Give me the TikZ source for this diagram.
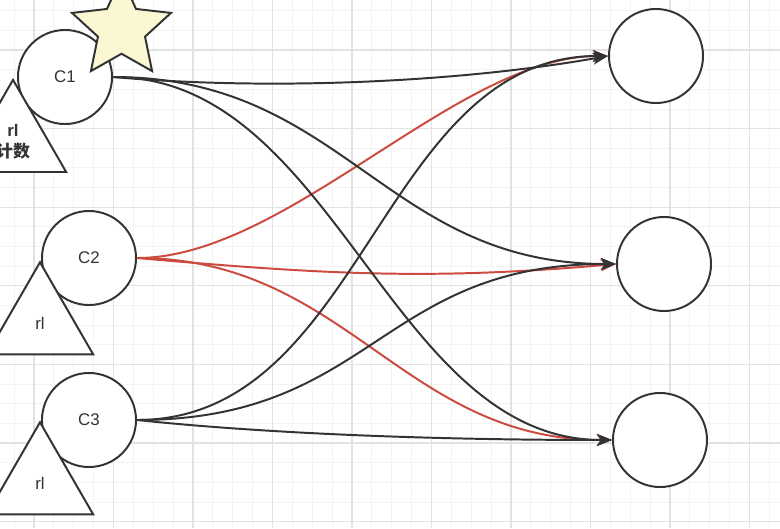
\documentclass[tikz,border=0pt]{standalone}
\usepackage{fontspec}
\setmainfont{Liberation Sans}
\newfontfamily\cjk{Noto Sans CJK SC}
\usetikzlibrary{arrows.meta,shapes.geometric}

\definecolor{linec}{HTML}{333333}
\definecolor{redline}{HTML}{CC4A3E}
\definecolor{starfill}{HTML}{FAF7D2}
\definecolor{gridmajor}{HTML}{E2E2E2}
\definecolor{gridminor}{HTML}{F3F3F3}

\tikzset{
  client/.style={circle, draw=linec, line width=1.4pt, fill=white,
    minimum size=2.35cm, inner sep=0pt, text=linec, font=\fontsize{12}{14}\selectfont},
  limiter/.style={regular polygon, regular polygon sides=3, draw=linec, line width=1.4pt,
    fill=white, minimum size=3.07cm, inner sep=0pt, align=center, text=linec,
    font=\fontsize{12}{15}\selectfont},
  starbadge/.style={star, star points=5, star point ratio=2.1, draw=linec,
    line width=1.4pt, fill=starfill, minimum size=2.6cm, inner sep=0pt},
  flow/.style={->, color=linec, line width=1.4pt},
  redflow/.style={flow, color=redline},
  minorline/.style={gridminor, line width=0.6pt},
  majorline/.style={gridmajor, line width=0.8pt}
}

\begin{document}
\begin{tikzpicture}[x=0.025cm, y=0.025cm, >={Stealth[length=3.8mm,width=3mm,inset=1mm]}]
\useasboundingbox (0,0) rectangle (780,528);

% background grid
\foreach \k in {-2,...,39}
  \draw[minorline] ({34+\k*19.875},0) -- ++(0,528);
\foreach \k in {-3,...,27}
  \draw[minorline] (0,{478-\k*19.65}) -- ++(780,0);
\foreach \k in {0,...,9}
  \draw[majorline] ({34+\k*79.5},0) -- ++(0,528);
\foreach \k in {-1,...,6}
  \draw[majorline] (0,{478-\k*78.6}) -- ++(780,0);

% clients
\node[client] (c1) at (65,451) {C1};
\node[client] (c2) at (89,270) {C2};
\node[client] (c3) at (89,108) {C3};

% servers
\node[client] (s1) at (656,472) {};
\node[client] (s2) at (664,264) {};
\node[client] (s3) at (660,88) {};

% links
\path[redflow] (c2.east) edge[out=0,in=180,looseness=0.75] (s1.west)
  (c2.east) edge[out=-5,in=185,looseness=1] (s2.west)
  (c2.east) edge[out=0,in=180,looseness=1.05] (s3.west);
\path[flow] (c1.east) edge[out=-5,in=190,looseness=0.8] (s1.west)
  (c1.east) edge[out=0,in=180,looseness=1.1] (s2.west)
  (c1.east) edge[out=0,in=180,looseness=0.92] (s3.west)
  (c3.east) edge[out=0,in=180,looseness=0.98] (s1.west)
  (c3.east) edge[out=0,in=180,looseness=1.2] (s2.west)
  (c3.east) edge[out=-6,in=180,looseness=0.8] (s3.west);

% limiters
\node[limiter] (t1) at (13,386.7) {\textbf{rl}\\{\cjk\bfseries 计数}};
\node[limiter] (t2) at (40,204.3) {rl};
\node[limiter] (t3) at (40,44.3) {rl};

\node[starbadge] (badge) at (121.5,499) {};
\end{tikzpicture}
\end{document}
